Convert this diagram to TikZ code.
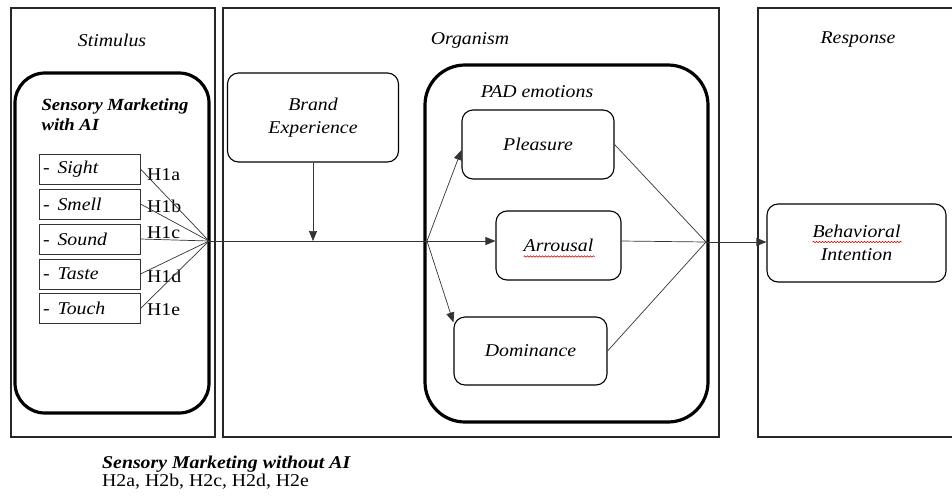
\documentclass[tikz,border=0pt]{standalone}
\usepackage{fontspec}
\setmainfont[FakeStretch=1.1]{Liberation Serif}
\usetikzlibrary{arrows.meta,decorations.pathmorphing,calc}
\begin{document}
\begin{tikzpicture}[x=1pt,y=-1pt,
  font=\fontsize{18}{21}\selectfont,
  frame/.style={draw=black!85, line width=1.3pt},
  sense/.style={draw=black!80, line width=1pt, minimum width=101pt, minimum height=30pt, text width=93pt, align=left, inner xsep=4pt, inner ysep=0pt},
  rbox/.style={draw, line width=1.1pt, rounded corners=11pt, align=center, inner sep=0pt, font=\fontsize{18}{23}\selectfont\itshape},
  hlab/.style={anchor=west, inner sep=0pt},
  conn/.style={draw=black!80, line width=0.7pt},
  arr/.style={conn, -{Triangle[length=10pt,width=8pt]}},
  squig/.style={draw=red!80!black, line width=0.6pt, decorate, decoration={snake, amplitude=0.7pt, segment length=3pt}}
]
\clip (0,0) rectangle (952,496);

% section frames
\draw[frame] (11,8) rectangle (215,437);
\draw[frame] (223,8) rectangle (719,437);
\draw[frame] (960,8) -- (758,8) -- (758,437) -- (960,437);

\node (tstim) at (112,40) {\itshape Stimulus};
\node (torg) at (470,40) {\itshape Organism};
\node (tresp) at (858,40) {\itshape Response};

% stimulus block
\node[draw, line width=3.2pt, rounded corners=30pt, minimum width=194pt, minimum height=340pt] (smk) at (112,243) {};
\node[anchor=west, align=left, font=\fontsize{17}{20}\selectfont\bfseries\itshape] (smt) at (38,115) {Sensory Marketing\\with AI};

\node[sense] (s1) at (89.5,169) {-\hspace{8pt}\textit{Sight}};
\node[sense] (s2) at (89.5,204) {-\hspace{8pt}\textit{Smell}};
\node[sense] (s3) at (89.5,239) {-\hspace{8pt}\textit{Sound}};
\node[sense] (s4) at (89.5,274) {-\hspace{8pt}\textit{Taste}};
\node[sense] (s5) at (89.5,308.5) {-\hspace{8pt}\textit{Touch}};

\node[hlab] (h1a) at (147,175) {H1a};
\node[hlab] (h1b) at (147,206) {H1b};
\node[hlab] (h1c) at (147,233) {H1c};
\node[hlab] (h1d) at (147,276) {H1d};
\node[hlab] (h1e) at (147,310) {H1e};

\coordinate (hub1) at (209,241);
\coordinate (hub2) at (427,241);
\coordinate (hub3) at (706,242);

\foreach \s in {s1,s2,s3,s4,s5} \draw[conn] (\s.east) -- (hub1);

% organism
\node[rbox, minimum width=171pt, minimum height=89pt] (be) at (313,117.5) {Brand\\Experience};
\node[draw, line width=3.2pt, rounded corners=40pt, minimum width=283pt, minimum height=357pt] (pad) at (566.5,243.5) {};
\node (tpad) at (537,92) {\itshape PAD emotions};
\node[rbox, minimum width=152pt, minimum height=69pt] (pl) at (538,144.5) {Pleasure};
\node[rbox, minimum width=125pt, minimum height=69pt] (ar) at (558.5,245.5) {Arrousal};
\node[rbox, minimum width=153pt, minimum height=68pt] (dm) at (530.5,351) {Dominance};

\draw[conn] (hub1) -- (hub2);
\draw[arr] (be.south) -- (be.south |- hub1);
\draw[arr] (hub2) -- ([yshift=-5.5pt]pl.west);
\draw[arr] (hub2) -- (ar.west |- hub2);
\draw[arr] (hub2) -- ([yshift=-6pt]dm.north west);

\draw[conn] (pl.east) -- (hub3);
\draw[conn] (ar.east |- hub2) -- (hub3);
\draw[conn] (dm.east) -- (hub3);

% response
\node[rbox, minimum width=179pt, minimum height=78pt] (bi) at (856.5,243) {Behavioral\\Intention};
\draw[arr] (hub3) -- (bi.west |- hub3);

% spell-check squiggles
\draw[squig] ($(ar.center)+(-35,11)$) -- ($(ar.center)+(36,11)$);
\draw[squig] ($(bi.center)+(-44,-1)$) -- ($(bi.center)+(45,-1)$);

% bottom notes
\node[anchor=west, inner sep=0pt, font=\fontsize{18}{20}\selectfont\bfseries\itshape] (nsm) at (102,464) {Sensory Marketing without AI};
\node[anchor=west, inner sep=0pt] (nh2) at (102,482) {H2a, H2b, H2c, H2d, H2e};
\end{tikzpicture}
\end{document}
